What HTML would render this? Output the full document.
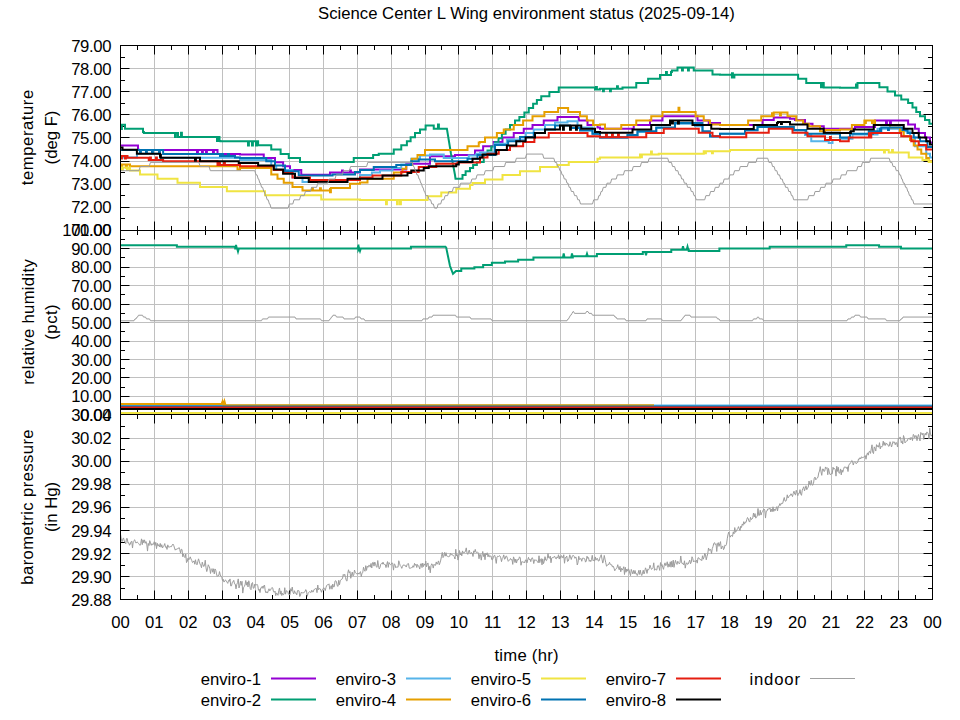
<!DOCTYPE html>
<html><head><meta charset="utf-8"><style>
html,body{margin:0;padding:0;background:#fff;width:960px;height:720px;overflow:hidden}
svg{display:block}
text{font-family:"Liberation Sans", sans-serif;font-size:16.7px;fill:#000}
</style></head><body>
<svg width="960" height="720" viewBox="0 0 960 720">
<rect width="960" height="720" fill="#fff"/>
<path d="M154.50 45.5V230.3M188.50 45.5V230.3M222.50 45.5V230.3M255.50 45.5V230.3M289.50 45.5V230.3M323.50 45.5V230.3M357.50 45.5V230.3M391.50 45.5V230.3M425.50 45.5V230.3M458.50 45.5V230.3M492.50 45.5V230.3M526.50 45.5V230.3M560.50 45.5V230.3M594.50 45.5V230.3M628.50 45.5V230.3M661.50 45.5V230.3M695.50 45.5V230.3M729.50 45.5V230.3M763.50 45.5V230.3M797.50 45.5V230.3M831.50 45.5V230.3M864.50 45.5V230.3M898.50 45.5V230.3M120.5 68.50H932.5M120.5 91.50H932.5M120.5 114.50H932.5M120.5 137.50H932.5M120.5 161.50H932.5M120.5 184.50H932.5M120.5 207.50H932.5M154.50 230.3V414.9M188.50 230.3V414.9M222.50 230.3V414.9M255.50 230.3V414.9M289.50 230.3V414.9M323.50 230.3V414.9M357.50 230.3V414.9M391.50 230.3V414.9M425.50 230.3V414.9M458.50 230.3V414.9M492.50 230.3V414.9M526.50 230.3V414.9M560.50 230.3V414.9M594.50 230.3V414.9M628.50 230.3V414.9M661.50 230.3V414.9M695.50 230.3V414.9M729.50 230.3V414.9M763.50 230.3V414.9M797.50 230.3V414.9M831.50 230.3V414.9M864.50 230.3V414.9M898.50 230.3V414.9M120.5 248.50H932.5M120.5 267.50H932.5M120.5 285.50H932.5M120.5 304.50H932.5M120.5 322.50H932.5M120.5 341.50H932.5M120.5 359.50H932.5M120.5 377.50H932.5M120.5 396.50H932.5M154.50 414.9V599.9M188.50 414.9V599.9M222.50 414.9V599.9M255.50 414.9V599.9M289.50 414.9V599.9M323.50 414.9V599.9M357.50 414.9V599.9M391.50 414.9V599.9M425.50 414.9V599.9M458.50 414.9V599.9M492.50 414.9V599.9M526.50 414.9V599.9M560.50 414.9V599.9M594.50 414.9V599.9M628.50 414.9V599.9M661.50 414.9V599.9M695.50 414.9V599.9M729.50 414.9V599.9M763.50 414.9V599.9M797.50 414.9V599.9M831.50 414.9V599.9M864.50 414.9V599.9M898.50 414.9V599.9M120.5 438.50H932.5M120.5 461.50H932.5M120.5 484.50H932.5M120.5 507.50H932.5M120.5 530.50H932.5M120.5 553.50H932.5M120.5 576.50H932.5" stroke="#c0c0c0" stroke-width="1" fill="none"/>
<path d="M137.50 45.5v4.5M137.50 230.5v-4.5M154.50 45.5v9M154.50 230.5v-9M171.50 45.5v4.5M171.50 230.5v-4.5M188.50 45.5v9M188.50 230.5v-9M205.50 45.5v4.5M205.50 230.5v-4.5M222.50 45.5v9M222.50 230.5v-9M238.50 45.5v4.5M238.50 230.5v-4.5M255.50 45.5v9M255.50 230.5v-9M272.50 45.5v4.5M272.50 230.5v-4.5M289.50 45.5v9M289.50 230.5v-9M306.50 45.5v4.5M306.50 230.5v-4.5M323.50 45.5v9M323.50 230.5v-9M340.50 45.5v4.5M340.50 230.5v-4.5M357.50 45.5v9M357.50 230.5v-9M374.50 45.5v4.5M374.50 230.5v-4.5M391.50 45.5v9M391.50 230.5v-9M408.50 45.5v4.5M408.50 230.5v-4.5M425.50 45.5v9M425.50 230.5v-9M441.50 45.5v4.5M441.50 230.5v-4.5M458.50 45.5v9M458.50 230.5v-9M475.50 45.5v4.5M475.50 230.5v-4.5M492.50 45.5v9M492.50 230.5v-9M509.50 45.5v4.5M509.50 230.5v-4.5M526.50 45.5v9M526.50 230.5v-9M543.50 45.5v4.5M543.50 230.5v-4.5M560.50 45.5v9M560.50 230.5v-9M577.50 45.5v4.5M577.50 230.5v-4.5M594.50 45.5v9M594.50 230.5v-9M611.50 45.5v4.5M611.50 230.5v-4.5M628.50 45.5v9M628.50 230.5v-9M644.50 45.5v4.5M644.50 230.5v-4.5M661.50 45.5v9M661.50 230.5v-9M678.50 45.5v4.5M678.50 230.5v-4.5M695.50 45.5v9M695.50 230.5v-9M712.50 45.5v4.5M712.50 230.5v-4.5M729.50 45.5v9M729.50 230.5v-9M746.50 45.5v4.5M746.50 230.5v-4.5M763.50 45.5v9M763.50 230.5v-9M780.50 45.5v4.5M780.50 230.5v-4.5M797.50 45.5v9M797.50 230.5v-9M814.50 45.5v4.5M814.50 230.5v-4.5M831.50 45.5v9M831.50 230.5v-9M847.50 45.5v4.5M847.50 230.5v-4.5M864.50 45.5v9M864.50 230.5v-9M881.50 45.5v4.5M881.50 230.5v-4.5M898.50 45.5v9M898.50 230.5v-9M915.50 45.5v4.5M915.50 230.5v-4.5M120.5 57.50h4.5M932.5 57.50h-4.5M120.5 68.50h9M932.5 68.50h-9M120.5 80.50h4.5M932.5 80.50h-4.5M120.5 91.50h9M932.5 91.50h-9M120.5 103.50h4.5M932.5 103.50h-4.5M120.5 114.50h9M932.5 114.50h-9M120.5 126.50h4.5M932.5 126.50h-4.5M120.5 137.50h9M932.5 137.50h-9M120.5 149.50h4.5M932.5 149.50h-4.5M120.5 161.50h9M932.5 161.50h-9M120.5 172.50h4.5M932.5 172.50h-4.5M120.5 184.50h9M932.5 184.50h-9M120.5 195.50h4.5M932.5 195.50h-4.5M120.5 207.50h9M932.5 207.50h-9M120.5 218.50h4.5M932.5 218.50h-4.5M137.50 230.5v4.5M137.50 414.5v-4.5M154.50 230.5v9M154.50 414.5v-9M171.50 230.5v4.5M171.50 414.5v-4.5M188.50 230.5v9M188.50 414.5v-9M205.50 230.5v4.5M205.50 414.5v-4.5M222.50 230.5v9M222.50 414.5v-9M238.50 230.5v4.5M238.50 414.5v-4.5M255.50 230.5v9M255.50 414.5v-9M272.50 230.5v4.5M272.50 414.5v-4.5M289.50 230.5v9M289.50 414.5v-9M306.50 230.5v4.5M306.50 414.5v-4.5M323.50 230.5v9M323.50 414.5v-9M340.50 230.5v4.5M340.50 414.5v-4.5M357.50 230.5v9M357.50 414.5v-9M374.50 230.5v4.5M374.50 414.5v-4.5M391.50 230.5v9M391.50 414.5v-9M408.50 230.5v4.5M408.50 414.5v-4.5M425.50 230.5v9M425.50 414.5v-9M441.50 230.5v4.5M441.50 414.5v-4.5M458.50 230.5v9M458.50 414.5v-9M475.50 230.5v4.5M475.50 414.5v-4.5M492.50 230.5v9M492.50 414.5v-9M509.50 230.5v4.5M509.50 414.5v-4.5M526.50 230.5v9M526.50 414.5v-9M543.50 230.5v4.5M543.50 414.5v-4.5M560.50 230.5v9M560.50 414.5v-9M577.50 230.5v4.5M577.50 414.5v-4.5M594.50 230.5v9M594.50 414.5v-9M611.50 230.5v4.5M611.50 414.5v-4.5M628.50 230.5v9M628.50 414.5v-9M644.50 230.5v4.5M644.50 414.5v-4.5M661.50 230.5v9M661.50 414.5v-9M678.50 230.5v4.5M678.50 414.5v-4.5M695.50 230.5v9M695.50 414.5v-9M712.50 230.5v4.5M712.50 414.5v-4.5M729.50 230.5v9M729.50 414.5v-9M746.50 230.5v4.5M746.50 414.5v-4.5M763.50 230.5v9M763.50 414.5v-9M780.50 230.5v4.5M780.50 414.5v-4.5M797.50 230.5v9M797.50 414.5v-9M814.50 230.5v4.5M814.50 414.5v-4.5M831.50 230.5v9M831.50 414.5v-9M847.50 230.5v4.5M847.50 414.5v-4.5M864.50 230.5v9M864.50 414.5v-9M881.50 230.5v4.5M881.50 414.5v-4.5M898.50 230.5v9M898.50 414.5v-9M915.50 230.5v4.5M915.50 414.5v-4.5M120.5 239.50h4.5M932.5 239.50h-4.5M120.5 248.50h9M932.5 248.50h-9M120.5 257.50h4.5M932.5 257.50h-4.5M120.5 267.50h9M932.5 267.50h-9M120.5 276.50h4.5M932.5 276.50h-4.5M120.5 285.50h9M932.5 285.50h-9M120.5 294.50h4.5M932.5 294.50h-4.5M120.5 304.50h9M932.5 304.50h-9M120.5 313.50h4.5M932.5 313.50h-4.5M120.5 322.50h9M932.5 322.50h-9M120.5 331.50h4.5M932.5 331.50h-4.5M120.5 341.50h9M932.5 341.50h-9M120.5 350.50h4.5M932.5 350.50h-4.5M120.5 359.50h9M932.5 359.50h-9M120.5 368.50h4.5M932.5 368.50h-4.5M120.5 377.50h9M932.5 377.50h-9M120.5 387.50h4.5M932.5 387.50h-4.5M120.5 396.50h9M932.5 396.50h-9M120.5 405.50h4.5M932.5 405.50h-4.5M137.50 414.5v4.5M137.50 599.5v-4.5M154.50 414.5v9M154.50 599.5v-9M171.50 414.5v4.5M171.50 599.5v-4.5M188.50 414.5v9M188.50 599.5v-9M205.50 414.5v4.5M205.50 599.5v-4.5M222.50 414.5v9M222.50 599.5v-9M238.50 414.5v4.5M238.50 599.5v-4.5M255.50 414.5v9M255.50 599.5v-9M272.50 414.5v4.5M272.50 599.5v-4.5M289.50 414.5v9M289.50 599.5v-9M306.50 414.5v4.5M306.50 599.5v-4.5M323.50 414.5v9M323.50 599.5v-9M340.50 414.5v4.5M340.50 599.5v-4.5M357.50 414.5v9M357.50 599.5v-9M374.50 414.5v4.5M374.50 599.5v-4.5M391.50 414.5v9M391.50 599.5v-9M408.50 414.5v4.5M408.50 599.5v-4.5M425.50 414.5v9M425.50 599.5v-9M441.50 414.5v4.5M441.50 599.5v-4.5M458.50 414.5v9M458.50 599.5v-9M475.50 414.5v4.5M475.50 599.5v-4.5M492.50 414.5v9M492.50 599.5v-9M509.50 414.5v4.5M509.50 599.5v-4.5M526.50 414.5v9M526.50 599.5v-9M543.50 414.5v4.5M543.50 599.5v-4.5M560.50 414.5v9M560.50 599.5v-9M577.50 414.5v4.5M577.50 599.5v-4.5M594.50 414.5v9M594.50 599.5v-9M611.50 414.5v4.5M611.50 599.5v-4.5M628.50 414.5v9M628.50 599.5v-9M644.50 414.5v4.5M644.50 599.5v-4.5M661.50 414.5v9M661.50 599.5v-9M678.50 414.5v4.5M678.50 599.5v-4.5M695.50 414.5v9M695.50 599.5v-9M712.50 414.5v4.5M712.50 599.5v-4.5M729.50 414.5v9M729.50 599.5v-9M746.50 414.5v4.5M746.50 599.5v-4.5M763.50 414.5v9M763.50 599.5v-9M780.50 414.5v4.5M780.50 599.5v-4.5M797.50 414.5v9M797.50 599.5v-9M814.50 414.5v4.5M814.50 599.5v-4.5M831.50 414.5v9M831.50 599.5v-9M847.50 414.5v4.5M847.50 599.5v-4.5M864.50 414.5v9M864.50 599.5v-9M881.50 414.5v4.5M881.50 599.5v-4.5M898.50 414.5v9M898.50 599.5v-9M915.50 414.5v4.5M915.50 599.5v-4.5M120.5 426.50h4.5M932.5 426.50h-4.5M120.5 438.50h9M932.5 438.50h-9M120.5 449.50h4.5M932.5 449.50h-4.5M120.5 461.50h9M932.5 461.50h-9M120.5 472.50h4.5M932.5 472.50h-4.5M120.5 484.50h9M932.5 484.50h-9M120.5 495.50h4.5M932.5 495.50h-4.5M120.5 507.50h9M932.5 507.50h-9M120.5 518.50h4.5M932.5 518.50h-4.5M120.5 530.50h9M932.5 530.50h-9M120.5 542.50h4.5M932.5 542.50h-4.5M120.5 553.50h9M932.5 553.50h-9M120.5 565.50h4.5M932.5 565.50h-4.5M120.5 576.50h9M932.5 576.50h-9M120.5 588.50h4.5M932.5 588.50h-4.5" stroke="#000" stroke-width="1" fill="none"/>
<path d="M120.5 145.62H138.00V149.76H138.90V150.00H197.00V153.73H197.90V150.00H202.00V153.73H202.90V150.00H206.00V153.73H206.90V150.00H213.00V153.73H213.90V150.00H217.50V154.00H240.00V154.38H263.75V158.12H275.00V162.25H283.12V166.25H290.00V170.00H301.25V174.75H330.00V172.50H342.00V170.43H342.90V172.50H350.00V170.43H350.90V172.50H360.00V169.38H406.25V163.75H430.00V156.25H455.00V155.00H475.00V150.62H480.00V150.62H483.12V146.25H493.75V141.88H502.50V137.50H513.75V133.12H523.75V128.75H532.50V125.00H543.75V120.62H557.50V116.88H578.75V120.62H587.50V125.00H597.50V127.50H600.00V128.75H633.75V125.00H650.00V120.62H662.50V116.25H697.50V120.62H708.75V123.12H720.00V125.00H762.50V120.00H773.75V117.50H790.00V118.75H795.00V120.00H805.00V123.75H812.50V126.25H823.75V128.75H840.00V128.75H855.00V126.88H875.00V120.62H886.00V124.77H886.90V120.62H890.00V124.77H890.90V120.62H908.12V124.38H915.00V128.75H918.75V133.12H925.00V137.50H930.00V142.50H932.5" stroke="#9400d3" stroke-width="2" fill="none"/>
<path d="M120.5 124.75H121.00V128.89H121.90V124.75H125.00V128.75H143.00V132.06H143.90V132.88H175.00V137.01H175.90V132.88H178.00V137.01H178.90V136.88H181.00V132.74H181.90V136.88H217.00V141.01H217.90V136.88H219.50V141.01H220.40V141.25H240.00V141.25H248.00V145.39H248.90V141.25H252.00V145.39H252.90V141.25H256.00V145.39H256.90V141.25H258.12V145.25H271.25V149.38H280.62V154.00H288.75V158.12H300.00V161.88H353.75V158.12H373.12V155.00H378.75V153.75H393.75V149.38H401.25V145.25H406.88V141.25H410.62V137.25H415.00V133.12H420.00V129.38H425.62V125.62H433.75V128.75H438.00V124.61H438.90V128.75H446.90V128.75L451.00 153.75L455.00 175.00L455.50 178.75H458.75V178.75H462.50V175.00H465.62V171.25H470.00V168.12H473.12V165.00H476.88V161.88H483.75V154.60H487.50V150.50H491.25V146.40H495.00V142.30H498.50V138.20H501.88V133.75H505.62V129.38H510.00V125.00H515.00V120.62H519.38V116.88H524.38V112.50H528.75V108.12H533.12V103.75H536.88V100.00H541.25V96.25H549.38V91.88H558.75V87.50H595.00V89.38H596.00V86.89H596.90V89.38H600.00V88.75H603.00V91.23H603.90V88.75H610.00V91.23H610.90V88.75H617.00V86.27H617.90V88.75H622.50V87.50H636.25V83.12H648.12V78.75H660.00V75.00H666.00V71.89H666.90V75.00H671.00V71.89H671.90V70.62H677.50V67.50H682.00V70.61H682.90V67.50H688.00V70.61H688.90V67.50H693.75V70.62H712.50V74.38H720.00V74.75H731.88V77.50H732.00V73.36H732.90V77.50H734.38V74.75H798.12V78.75H806.25V83.12H821.00V87.27H821.90V83.12H823.75V87.50H840.00V87.75H856.00V84.44H856.90V87.75H857.50V83.12H879.38V87.25H887.50V91.50H895.00V95.62H901.25V99.38H908.12V103.12H912.50V107.50H916.25V111.88H920.00V116.25H925.00V120.00H929.38V123.75H932.5" stroke="#009e73" stroke-width="2" fill="none"/>
<path d="M120.5 157.50H137.00V153.75H160.00V157.75H200.00V157.75H240.00V160.00H271.25V166.25H276.25V170.00H292.50V177.50H302.50V181.88H332.50V180.00H360.00V175.00H371.88V172.50H380.00V170.62H392.50V168.12H401.25V164.38H411.25V158.75H420.00V155.62H430.00V154.38H443.75V158.12H468.75V155.62H476.25V153.75H480.00V152.50H494.38V143.75H506.88V139.38H525.62V133.12H533.75V129.38H545.00V125.00H555.00V122.50H567.50V121.25H577.50V127.50H592.50V133.75H600.00V138.12H627.50V135.62H637.50V131.88H656.25V128.12H675.00V123.75H695.00V126.25H702.50V131.88H710.00V136.88H720.00V133.75H745.00V130.62H757.50V126.88H793.75V130.62H805.00V135.00H811.25V141.25H828.75V143.12H832.50V140.00H840.00V138.75H852.50V134.38H877.50V128.75H905.00V131.25H910.00V137.50H915.00V146.25H926.25V153.75H930.00V157.50H932.5" stroke="#56b4e9" stroke-width="2" fill="none"/>
<path d="M120.5 164.50H121.00V167.40H121.90V164.50H126.00V167.40H126.90V164.50H130.00V166.25H237.50V169.38H240.00V168.12H271.25V174.38H277.50V178.75H283.75V182.75H292.50V186.88H302.50V190.62H312.00V188.14H312.90V190.62H320.00V188.14H320.90V190.62H330.00V188.12H330.00V192.26H330.90V188.12H350.00V183.75H360.00V182.50H367.50V178.75H393.75V172.50H402.50V168.75H406.25V165.00H411.88V158.75H417.50V155.00H425.00V150.00H467.50V146.25H478.75V142.50H480.00V141.88H485.00V137.50H496.88V133.12H503.75V129.38H513.75V125.00H523.12V120.62H532.50V116.25H544.38V111.88H558.12V108.12H568.12V111.88H580.00V116.25H586.88V120.62H593.12V125.00H600.00V124.38H605.00V128.75H621.25V125.00H636.25V120.62H651.25V116.25H662.50V111.88H678.50V107.73H679.40V111.88H695.62V116.25H703.75V120.62H710.00V124.38H720.00V125.00H748.12V120.62H761.25V116.25H772.00V113.35H772.90V116.25H773.75V112.50H780.00V115.40H780.90V112.50H787.50V116.25H796.25V120.62H803.12V123.75H808.75V126.25H820.00V131.25H825.00V130.00H840.00V129.38H851.88V125.00H864.38V120.62H865.00V123.11H865.90V120.62H872.00V123.11H872.90V120.62H875.00V125.00H890.00V127.50H900.00V131.25H903.75V136.25H910.00V140.00H913.75V145.62H917.50V149.38H921.25V153.75H926.25V158.12H928.75V161.25H932.5" stroke="#e69f00" stroke-width="2" fill="none"/>
<path d="M120.5 167.50H122.00V169.98H122.90V167.50H127.00V169.98H127.90V167.50H130.00V170.62H140.00V174.38H157.50V178.75H177.50V182.75H200.00V186.88H226.88V191.25H240.00V191.25H265.00V195.25H321.25V199.38H360.00V200.00H386.00V204.14H386.90V200.00H397.00V204.14H397.80V200.00H400.00V204.14H400.90V200.00H427.50V196.25H441.25V192.50H456.25V188.75H470.00V185.00H472.50V183.12H480.00V183.12H485.00V179.38H502.50V175.00H520.00V171.25H540.00V166.88H557.50V165.00H568.75V161.88H597.50V158.75H600.00V157.50H640.00V154.38H641.00V157.27H641.90V154.38H651.00V151.48H651.90V154.38H658.75V153.75H703.75V151.25H705.00V153.32H705.90V151.25H712.00V153.32H712.90V151.25H720.00V151.25H730.00V150.00H840.00V150.00H884.00V152.48H884.90V150.00H888.75V152.50H892.00V150.02H892.90V152.50H908.75V157.50H922.50V160.00H928.75V161.88H932.5" stroke="#f0e442" stroke-width="2" fill="none"/>
<path d="M120.5 150.00H140.00V152.07H140.90V150.00H146.00V152.07H146.90V150.00H152.00V152.07H152.90V150.00H159.00V152.07H159.90V150.00H163.12V154.00H220.00V156.00H222.00V153.93H222.90V156.00H228.00V153.93H228.90V156.00H235.00V157.50H240.00V158.12H266.25V161.25H275.00V165.62H285.00V171.25H298.75V175.62H332.50V174.38H355.00V171.88H360.00V170.00H373.75V166.88H396.25V165.00H411.25V161.25H418.75V159.38H435.00V161.25H467.50V158.75H477.50V155.00H480.00V155.00H495.00V145.00H508.12V141.25H520.00V136.88H533.75V133.12H545.00V129.38H555.00V125.62H570.00V128.12H580.00V130.62H592.50V133.75H600.00V137.25H627.50V135.00H637.50V131.25H656.25V127.50H675.00V123.12H702.50V131.25H710.00V136.25H720.00V133.75H745.00V130.00H757.50V126.88H793.75V130.00H806.25V133.75H840.00V137.50H850.00V133.75H868.75V131.25H872.00V133.73H872.90V131.25H880.00V128.77H880.90V131.25H881.25V127.50H888.00V129.98H888.90V127.50H902.50V130.00H907.50V133.12H913.75V137.50H920.00V141.25H927.50V146.88H932.5" stroke="#0072b2" stroke-width="2" fill="none"/>
<path d="M120.5 156.00H121.00V158.48H121.90V156.00H125.00V158.48H125.90V156.00H127.50V157.75H148.75V160.00H150.00V157.52H150.90V160.00H156.00V157.52H156.90V160.00H163.12V161.25H217.50V165.00H219.00V162.10H219.90V165.00H224.00V162.10H224.90V165.00H240.00V166.25H273.75V170.00H283.12V173.12H292.50V177.50H310.00V180.00H360.00V177.50H372.50V175.62H401.25V171.88H418.75V166.88H436.25V163.75H457.50V162.50H480.00V157.50H487.50V153.75H498.75V150.00H510.00V146.25H523.12V141.88H534.38V137.50H548.75V133.12H587.50V136.25H600.00V137.25H606.00V134.35H606.90V137.25H612.00V134.35H612.90V137.25H618.00V134.35H618.90V137.25H646.25V133.12H663.75V128.75H698.75V132.75H712.50V136.25H720.00V137.25H746.25V132.75H768.75V128.75H792.50V132.75H807.50V136.25H825.00V140.00H830.00V137.10H830.90V140.00H840.00V141.25H848.75V137.50H869.00V133.36H869.90V137.50H871.25V133.12H901.25V136.25H911.25V141.25H918.75V145.00H926.25V149.38H932.5" stroke="#e51e10" stroke-width="2" fill="none"/>
<path d="M120.5 147.50H122.50V149.75H136.88V153.75H160.00V157.75H160.00V154.85H160.90V157.75H195.00V160.65H195.90V157.75H200.00V161.25H238.75V163.12H240.00V163.12H258.12V165.62H273.75V169.38H283.12V173.75H295.00V178.12H308.75V181.88H347.50V178.75H360.00V178.75H382.50V175.62H407.50V173.12H411.25V170.62H423.75V168.12H428.75V166.25H456.25V164.38H458.75V161.88H472.50V158.75H480.00V157.50H482.50V154.38H496.25V150.00H506.88V145.62H516.25V141.25H525.62V137.50H535.00V133.12H545.00V129.38H560.00V125.62H563.00V129.76H563.90V125.62H570.00V129.76H570.90V125.62H576.00V129.76H576.90V125.62H581.25V128.75H595.00V131.88H600.00V132.75H632.50V129.38H651.25V125.00H670.00V120.62H672.00V123.52H672.90V120.62H678.00V123.52H678.90V120.62H692.50V125.00H711.25V128.75H720.00V129.00H753.75V125.00H777.00V122.93H777.90V121.88H781.00V123.94H781.90V121.88H790.00V124.38H807.50V128.75H823.75V132.75H840.00V133.12H850.00V131.25H850.00V132.91H850.90V131.25H853.75V129.38H873.75V125.00H903.75V128.75H912.50V133.12H918.75V137.50H926.25V141.25H930.00V144.38H932.5" stroke="#000000" stroke-width="2" fill="none"/>
<path d="M120.5 170.70H139.00L140.20 166.54H149.20L150.40 162.39H198.90L200.10 166.54H209.10L210.30 170.70H254.80L256.00 174.86H257.00L258.20 179.02H258.70L259.90 183.18H260.40L261.60 187.33H262.60L263.80 191.49H264.30L265.50 195.65H266.00L267.20 199.81H268.20L269.40 203.97H269.90L271.10 208.12H288.10L289.30 203.97H292.80L294.00 199.81H299.50L300.70 195.65H304.20L305.40 191.49H310.40L311.60 187.33H316.60L317.80 183.18H327.80L329.00 179.02H335.00L336.20 174.86H342.20L343.40 170.70H349.40L350.60 166.54H366.60L367.80 162.39H412.30L413.50 166.54H414.00L415.20 170.70H415.70L416.90 174.86H417.90L419.10 179.02H419.60L420.80 183.18H421.30L422.50 187.33H423.00L424.20 191.49H424.70L425.90 195.65H427.90L429.10 199.81H430.60L431.80 203.97H433.30L434.50 208.12H437.00L438.20 203.97H440.70L441.90 199.81H443.90L445.10 195.65H447.60L448.80 191.49H452.30L453.50 187.33H459.50L460.70 183.18H470.70L471.90 179.02H475.90L477.10 174.86H484.10L485.30 170.70H492.80L494.00 166.54H504.50L505.70 162.39H515.20L516.40 158.23H525.40L526.60 154.07H542.60L543.80 158.23H553.80L555.00 162.39H556.50L557.70 166.54H558.70L559.90 170.70H560.90L562.10 174.86H563.10L564.30 179.02H565.80L567.00 183.18H568.00L569.20 187.33H570.20L571.40 191.49H573.40L574.60 195.65H576.60L577.80 199.81H579.30L580.50 203.97H592.50L593.70 199.81H597.70L598.90 195.65H599.90L601.10 191.49H602.10L603.30 187.33H605.80L607.00 183.18H610.50L611.70 179.02H616.20L617.40 174.86H623.40L624.60 170.70H632.10L633.30 166.54H640.30L641.50 162.39H648.00L649.20 158.23H667.70L668.90 162.39H671.40L672.60 166.54H674.60L675.80 170.70H677.80L679.00 174.86H680.50L681.70 179.02H683.20L684.40 183.18H686.40L687.60 187.33H690.10L691.30 191.49H692.80L694.00 195.65H695.00L696.20 199.81H704.70L705.90 195.65H709.40L710.60 191.49H714.10L715.30 187.33H718.80L720.00 183.18H723.00L724.20 179.02H728.70L729.90 174.86H733.40L734.60 170.70H739.10L740.30 166.54H747.30L748.50 162.39H756.00L757.20 158.23H767.70L768.90 162.39H771.40L772.60 166.54H774.10L775.30 170.70H776.80L778.00 174.86H779.50L780.70 179.02H782.20L783.40 183.18H784.40L785.60 187.33H787.60L788.80 191.49H790.30L791.50 195.65H792.50L793.70 199.81H807.70L808.90 195.65H813.90L815.10 191.49H819.60L820.80 187.33H824.80L826.00 183.18H832.00L833.20 179.02H840.20L841.40 174.86H845.90L847.10 170.70H856.60L857.80 166.54H861.30L862.50 162.39H869.50L870.70 158.23H889.20L890.40 162.39H891.90L893.10 166.54H895.10L896.30 170.70H898.30L899.50 174.86H900.50L901.70 179.02H902.20L903.40 183.18H904.40L905.60 187.33H906.60L907.80 191.49H908.30L909.50 195.65H910.50L911.70 199.81H912.70L913.90 203.97H932.5" stroke="#9c9c9c" stroke-width="1" fill="none"/>
<path d="M120.5 406.2H932.5" stroke="#9400d3" stroke-width="2" fill="none"/>
<path d="M120.5 245.31H176.88V246.63H235.20V248.38H235.94V248.38L236.00 244.88L236.80 248.38H237.20V248.38L238.00 251.38L238.80 248.38H357.60V248.38L358.40 245.38H358.44V249.69L359.20 248.38H359.20V248.38L360.00 250.88L360.80 248.38H395.63V248.38H410.94V246.63H446.00V246.60L450.00 266.00L453.00 273.75L456.00 271.00H461.25V268.50H474.38V267.19H483.13V265.00H491.88V262.81H505.00V261.50H518.13V259.75H533.44V257.56H562.90V257.56L563.70 253.56L564.50 257.56H571.20V257.56L572.00 253.56L572.80 257.56H572.81V256.25H586.20V256.25L587.00 253.75L587.80 256.25H596.88V254.06H642.81V251.88H645.20V251.88L646.00 255.38L646.80 251.88H671.25V249.69H682.20V249.69L683.00 246.19L683.80 249.69H686.70V249.69L687.50 246.69L688.30 249.69H688.75V251.00H719.38V248.38H769.69V246.63H846.25V245.31H879.06V246.63H900.94V248.38H932.5" stroke="#009e73" stroke-width="2" fill="none"/>
<path d="M120.5 405.6H932.5" stroke="#56b4e9" stroke-width="2" fill="none"/>
<path d="M120.5 404H221.5L222.5 401.5L223.5 405.3L224.5 401.5L225.5 405.3H654" stroke="#e69f00" stroke-width="2" fill="none"/>
<path d="M120.5 413.0H932.5" stroke="#f0e442" stroke-width="2" fill="none"/>
<path d="M120.5 406.6H932.5" stroke="#0072b2" stroke-width="2" fill="none"/>
<path d="M120.5 407.4H932.5" stroke="#e51e10" stroke-width="2" fill="none"/>
<path d="M120.5 409.0H932.5" stroke="#000000" stroke-width="2" fill="none"/>
<path d="M120.5 320.75H134.00L135.00 318.91H136.00L137.00 317.06H137.50L138.50 315.22H142.50L143.50 317.06H145.50L146.50 318.91H149.50L150.50 320.75H261.50L262.50 318.91H267.50L268.50 317.06H295.00L296.00 318.91H320.50L321.50 320.75H329.00L330.00 318.91H330.50L331.50 317.06H332.00L333.00 315.22H335.50L336.50 317.06H343.00L344.00 318.91H354.50L355.50 317.06H360.00L361.00 318.91H364.00L365.00 320.75H422.00L423.00 318.91H428.00L429.00 317.06H432.00L433.00 315.22H455.50L456.50 317.06H470.00L471.00 318.91H491.00L492.00 320.75H567.00L568.00 318.91H568.50L569.50 317.06H569.50L570.50 315.22H571.00L572.00 313.37H572.00L573.00 311.52H573.50L574.50 313.37H585.50L586.50 311.52H588.00L589.00 313.37H591.50L592.50 315.22H614.00L615.00 317.06H616.00L617.00 318.91H625.00L626.00 320.75H646.00L647.00 318.91H661.50L662.50 320.75H681.00L682.00 318.91H682.50L683.50 317.06H684.00L685.00 315.22H690.00L691.00 317.06H716.50L717.50 318.91H719.00L720.00 320.75H752.50L753.50 318.91H756.50L757.50 317.06H758.50L759.50 318.91H762.50L763.50 320.75H847.00L848.00 318.91H850.50L851.50 317.06H854.00L855.00 315.22H859.50L860.50 317.06H867.00L868.00 318.91H885.50L886.50 320.75H900.00L901.00 318.91H902.00L903.00 317.06H932.5" stroke="#9c9c9c" stroke-width="1" fill="none"/>
<path d="M120.50 534.18L121.25 538.99L122.00 541.54L122.75 539.19L123.50 537.93L124.25 540.93L125.00 542.27L125.75 543.79L126.50 538.56L127.25 538.48L128.00 543.17L128.75 542.73L129.50 545.26L130.25 544.09L131.00 541.69L131.75 541.38L132.50 548.02L133.25 541.54L134.00 540.49L134.75 539.77L135.50 542.70L136.25 542.89L137.00 541.82L137.75 542.53L138.50 543.37L139.25 544.39L140.00 545.39L140.75 543.41L141.50 538.87L142.25 544.67L143.00 539.85L143.75 542.78L144.50 539.85L145.25 543.31L146.00 541.57L146.75 543.92L147.50 551.08L148.25 543.44L149.00 545.55L149.75 540.63L150.50 543.08L151.25 545.33L152.00 543.65L152.75 544.78L153.50 544.23L154.25 541.74L155.00 545.44L155.75 542.37L156.50 548.63L157.25 543.26L158.00 546.09L158.75 544.61L159.50 546.89L160.25 543.41L161.00 547.19L161.75 544.70L162.50 547.98L163.25 546.61L164.00 545.59L164.75 543.56L165.50 547.22L166.25 546.62L167.00 549.42L167.75 544.87L168.50 547.10L169.25 547.09L170.00 546.67L170.75 546.59L171.50 546.62L172.25 544.92L173.00 544.06L173.75 545.57L174.50 547.94L175.25 550.15L176.00 549.01L176.75 549.28L177.50 548.74L178.25 548.65L179.00 547.56L179.75 549.52L180.50 552.95L181.25 549.25L182.00 549.53L182.75 556.76L183.50 553.94L184.25 556.73L185.00 557.63L185.75 554.01L186.50 562.60L187.25 561.46L188.00 558.16L188.75 559.86L189.50 558.79L190.25 556.84L191.00 558.99L191.75 560.49L192.50 562.57L193.25 562.01L194.00 560.89L194.75 564.24L195.50 559.75L196.25 563.70L197.00 564.81L197.75 561.95L198.50 558.84L199.25 561.18L200.00 564.11L200.75 565.08L201.50 567.72L202.25 562.15L203.00 564.77L203.75 566.55L204.50 565.00L205.25 560.21L206.00 567.82L206.75 571.58L207.50 568.87L208.25 564.75L209.00 566.21L209.75 567.97L210.50 573.49L211.25 569.48L212.00 568.62L212.75 572.24L213.50 568.77L214.25 573.93L215.00 568.95L215.75 570.30L216.50 573.93L217.25 576.42L218.00 575.52L218.75 575.59L219.50 571.58L220.25 575.01L221.00 576.12L221.75 577.17L222.50 580.62L223.25 579.27L224.00 582.07L224.75 580.68L225.50 579.95L226.25 581.21L227.00 582.15L227.75 583.36L228.50 580.51L229.25 581.30L230.00 578.93L230.75 585.98L231.50 585.85L232.25 582.33L233.00 581.86L233.75 580.34L234.50 583.80L235.25 584.11L236.00 588.88L236.75 584.65L237.50 582.52L238.25 578.91L239.00 587.95L239.75 585.22L240.50 581.16L241.25 585.35L242.00 581.31L242.75 593.09L243.50 587.74L244.25 586.55L245.00 584.91L245.75 580.47L246.50 585.17L247.25 581.96L248.00 586.98L248.75 580.77L249.50 583.67L250.25 588.64L251.00 589.69L251.75 583.27L252.50 582.53L253.25 588.16L254.00 588.17L254.75 584.09L255.50 584.97L256.25 585.19L257.00 584.26L257.75 585.65L258.50 590.31L259.25 589.23L260.00 592.59L260.75 587.87L261.50 587.97L262.25 586.24L263.00 588.43L263.75 585.91L264.50 585.05L265.25 590.96L266.00 592.88L266.75 591.71L267.50 593.06L268.25 590.79L269.00 588.78L269.75 590.84L270.50 590.00L271.25 588.51L272.00 587.39L272.75 588.09L273.50 591.70L274.25 592.28L275.00 591.05L275.75 595.64L276.50 592.91L277.25 593.84L278.00 595.30L278.75 590.61L279.50 587.97L280.25 594.23L281.00 590.92L281.75 595.52L282.50 593.28L283.25 594.82L284.00 594.26L284.75 587.71L285.50 594.15L286.25 590.95L287.00 590.76L287.75 591.50L288.50 594.27L289.25 594.53L290.00 594.83L290.75 588.68L291.50 591.14L292.25 587.04L293.00 592.27L293.75 593.88L294.50 590.74L295.25 593.06L296.00 593.03L296.75 594.82L297.50 590.61L298.25 590.59L299.00 590.74L299.75 596.53L300.50 595.01L301.25 592.22L302.00 593.02L302.75 592.76L303.50 592.97L304.25 592.02L305.00 591.73L305.75 589.61L306.50 591.02L307.25 596.30L308.00 593.63L308.75 592.40L309.50 591.61L310.25 592.09L311.00 592.61L311.75 590.16L312.50 591.95L313.25 591.90L314.00 589.48L314.75 589.24L315.50 588.60L316.25 588.30L317.00 592.65L317.75 585.02L318.50 589.69L319.25 588.74L320.00 588.57L320.75 590.07L321.50 592.29L322.25 589.73L323.00 589.08L323.75 587.72L324.50 588.53L325.25 590.62L326.00 587.32L326.75 585.29L327.50 584.72L328.25 584.78L329.00 583.83L329.75 589.25L330.50 587.24L331.25 585.58L332.00 589.18L332.75 584.01L333.50 586.96L334.25 586.77L335.00 581.07L335.75 580.74L336.50 581.89L337.25 585.81L338.00 586.41L338.75 580.30L339.50 584.79L340.25 580.74L341.00 579.97L341.75 578.86L342.50 578.63L343.25 574.44L344.00 575.57L344.75 574.28L345.50 577.50L346.25 580.43L347.00 581.16L347.75 573.35L348.50 569.79L349.25 572.81L350.00 571.59L350.75 578.31L351.50 575.06L352.25 572.07L353.00 575.90L353.75 574.98L354.50 570.01L355.25 572.53L356.00 573.20L356.75 573.79L357.50 574.05L358.25 572.97L359.00 574.19L359.75 572.40L360.50 571.69L361.25 576.61L362.00 573.20L362.75 572.63L363.50 567.21L364.25 569.74L365.00 571.26L365.75 565.66L366.50 570.40L367.25 566.23L368.00 567.30L368.75 565.32L369.50 565.38L370.25 567.15L371.00 563.48L371.75 568.03L372.50 562.65L373.25 562.33L374.00 566.14L374.75 562.07L375.50 563.69L376.25 566.66L377.00 567.38L377.75 560.53L378.50 565.80L379.25 569.00L380.00 567.44L380.75 564.16L381.50 563.35L382.25 564.08L383.00 562.13L383.75 564.20L384.50 564.40L385.25 564.52L386.00 567.59L386.75 564.37L387.50 561.57L388.25 567.36L389.00 562.50L389.75 563.96L390.50 564.71L391.25 564.25L392.00 562.76L392.75 564.51L393.50 570.13L394.25 563.74L395.00 564.84L395.75 567.76L396.50 566.92L397.25 566.98L398.00 567.23L398.75 560.75L399.50 563.31L400.25 565.62L401.00 566.49L401.75 568.34L402.50 566.47L403.25 564.87L404.00 565.53L404.75 564.98L405.50 566.05L406.25 567.06L407.00 564.75L407.75 563.68L408.50 563.61L409.25 568.12L410.00 568.57L410.75 567.93L411.50 567.64L412.25 567.61L413.00 565.71L413.75 567.27L414.50 563.35L415.25 565.32L416.00 564.12L416.75 567.51L417.50 564.53L418.25 565.63L419.00 566.83L419.75 569.05L420.50 564.06L421.25 563.63L422.00 567.58L422.75 563.07L423.50 566.57L424.25 564.13L425.00 565.11L425.75 561.08L426.50 566.82L427.25 563.94L428.00 562.94L428.75 569.69L429.50 566.47L430.25 572.81L431.00 565.59L431.75 563.77L432.50 564.73L433.25 568.09L434.00 564.24L434.75 565.25L435.50 565.32L436.25 561.95L437.00 564.25L437.75 562.71L438.50 560.91L439.25 564.80L440.00 562.89L440.75 560.09L441.50 556.39L442.25 552.43L443.00 557.63L443.75 556.21L444.50 552.48L445.25 556.14L446.00 552.70L446.75 556.06L447.50 556.37L448.25 556.78L449.00 556.38L449.75 556.20L450.50 553.11L451.25 554.77L452.00 554.40L452.75 554.95L453.50 556.04L454.25 556.76L455.00 559.02L455.75 549.27L456.50 556.03L457.25 554.57L458.00 560.07L458.75 556.73L459.50 550.53L460.25 555.01L461.00 552.64L461.75 555.87L462.50 550.91L463.25 552.85L464.00 552.53L464.75 552.36L465.50 550.99L466.25 547.86L467.00 552.96L467.75 554.37L468.50 552.08L469.25 550.07L470.00 553.05L470.75 554.05L471.50 552.51L472.25 553.05L473.00 556.49L473.75 550.85L474.50 552.31L475.25 549.38L476.00 552.32L476.75 552.40L477.50 552.06L478.25 552.84L479.00 558.74L479.75 554.32L480.50 554.68L481.25 560.17L482.00 555.14L482.75 551.46L483.50 556.54L484.25 553.63L485.00 559.72L485.75 553.26L486.50 554.96L487.25 552.77L488.00 556.85L488.75 554.46L489.50 556.82L490.25 556.27L491.00 555.89L491.75 559.64L492.50 559.71L493.25 557.77L494.00 555.62L494.75 555.30L495.50 558.45L496.25 563.40L497.00 556.92L497.75 556.23L498.50 556.50L499.25 555.65L500.00 556.00L500.75 557.84L501.50 561.67L502.25 558.44L503.00 557.34L503.75 554.87L504.50 559.14L505.25 558.65L506.00 555.96L506.75 556.35L507.50 558.82L508.25 561.32L509.00 560.50L509.75 559.60L510.50 558.45L511.25 560.00L512.00 559.30L512.75 564.40L513.50 556.86L514.25 558.69L515.00 562.52L515.75 559.06L516.50 563.02L517.25 559.71L518.00 560.21L518.75 559.09L519.50 556.84L520.25 557.85L521.00 565.24L521.75 561.70L522.50 561.68L523.25 562.55L524.00 561.73L524.75 562.84L525.50 559.95L526.25 560.11L527.00 562.83L527.75 559.69L528.50 557.38L529.25 559.86L530.00 559.06L530.75 561.66L531.50 558.53L532.25 557.68L533.00 559.30L533.75 563.57L534.50 559.83L535.25 560.25L536.00 559.83L536.75 560.43L537.50 561.82L538.25 562.84L539.00 555.78L539.75 562.63L540.50 559.43L541.25 558.64L542.00 564.83L542.75 558.86L543.50 563.66L544.25 561.35L545.00 556.69L545.75 560.12L546.50 560.63L547.25 558.59L548.00 553.46L548.75 557.96L549.50 558.25L550.25 556.08L551.00 562.76L551.75 557.94L552.50 557.53L553.25 557.69L554.00 556.51L554.75 556.46L555.50 558.40L556.25 558.85L557.00 556.90L557.75 557.79L558.50 554.74L559.25 559.07L560.00 556.09L560.75 558.24L561.50 555.60L562.25 556.44L563.00 558.06L563.75 554.71L564.50 563.24L565.25 557.53L566.00 557.51L566.75 556.04L567.50 561.46L568.25 561.03L569.00 558.59L569.75 554.81L570.50 556.86L571.25 559.49L572.00 556.96L572.75 555.47L573.50 555.52L574.25 556.53L575.00 558.40L575.75 556.93L576.50 558.52L577.25 564.96L578.00 562.67L578.75 556.27L579.50 559.50L580.25 558.97L581.00 558.51L581.75 561.28L582.50 558.18L583.25 558.25L584.00 558.20L584.75 558.88L585.50 562.13L586.25 561.02L587.00 556.20L587.75 558.33L588.50 557.57L589.25 561.34L590.00 560.04L590.75 561.62L591.50 559.49L592.25 555.30L593.00 560.79L593.75 560.33L594.50 561.03L595.25 556.93L596.00 560.17L596.75 558.46L597.50 558.52L598.25 560.97L599.00 561.02L599.75 558.22L600.50 556.39L601.25 554.69L602.00 559.12L602.75 563.08L603.50 560.43L604.25 555.44L605.00 559.14L605.75 562.69L606.50 566.17L607.25 565.61L608.00 564.37L608.75 564.58L609.50 562.29L610.25 564.28L611.00 565.16L611.75 564.74L612.50 567.09L613.25 566.22L614.00 568.08L614.75 570.78L615.50 569.36L616.25 568.79L617.00 567.45L617.75 564.69L618.50 568.10L619.25 569.79L620.00 566.39L620.75 571.77L621.50 568.30L622.25 570.10L623.00 568.66L623.75 566.71L624.50 574.53L625.25 567.28L626.00 572.24L626.75 569.02L627.50 571.12L628.25 568.80L629.00 569.87L629.75 573.12L630.50 575.66L631.25 569.41L632.00 571.56L632.75 573.89L633.50 570.44L634.25 573.70L635.00 570.44L635.75 573.81L636.50 573.60L637.25 575.56L638.00 573.78L638.75 570.38L639.50 574.38L640.25 570.05L641.00 574.04L641.75 575.52L642.50 573.15L643.25 570.23L644.00 573.98L644.75 571.35L645.50 567.83L646.25 569.61L647.00 573.42L647.75 569.19L648.50 569.90L649.25 568.56L650.00 565.20L650.75 567.63L651.50 569.36L652.25 568.74L653.00 567.59L653.75 562.82L654.50 570.29L655.25 569.01L656.00 569.58L656.75 570.09L657.50 565.95L658.25 565.45L659.00 567.44L659.75 570.44L660.50 562.59L661.25 565.81L662.00 564.56L662.75 567.37L663.50 569.32L664.25 565.15L665.00 562.85L665.75 565.69L666.50 564.79L667.25 561.77L668.00 567.23L668.75 563.86L669.50 566.51L670.25 561.79L671.00 567.21L671.75 561.24L672.50 566.86L673.25 560.14L674.00 567.35L674.75 563.19L675.50 560.35L676.25 563.26L677.00 564.45L677.75 561.27L678.50 562.28L679.25 563.91L680.00 562.77L680.75 555.99L681.50 561.92L682.25 563.76L683.00 563.34L683.75 564.85L684.50 560.81L685.25 568.15L686.00 563.99L686.75 562.74L687.50 564.39L688.25 563.96L689.00 561.88L689.75 560.09L690.50 563.74L691.25 562.23L692.00 556.78L692.75 558.47L693.50 561.95L694.25 561.00L695.00 561.27L695.75 561.73L696.50 560.21L697.25 563.14L698.00 557.77L698.75 557.83L699.50 559.12L700.25 559.71L701.00 559.44L701.75 560.67L702.50 555.78L703.25 559.18L704.00 557.20L704.75 553.35L705.50 555.06L706.25 559.80L707.00 556.43L707.75 553.74L708.50 547.99L709.25 550.50L710.00 549.27L710.75 549.75L711.50 553.57L712.25 548.66L713.00 546.57L713.75 543.44L714.50 542.60L715.25 544.59L716.00 543.74L716.75 551.47L717.50 543.37L718.25 542.62L719.00 546.38L719.75 543.70L720.50 541.61L721.25 548.93L722.00 546.76L722.75 545.94L723.50 549.68L724.25 548.44L725.00 544.91L725.75 545.67L726.50 544.33L727.25 538.79L728.00 534.46L728.75 532.06L729.50 535.64L730.25 537.14L731.00 535.27L731.75 535.80L732.50 536.49L733.25 531.88L734.00 533.90L734.75 527.58L735.50 532.30L736.25 531.25L737.00 529.75L737.75 528.58L738.50 526.65L739.25 528.81L740.00 530.68L740.75 526.15L741.50 527.46L742.25 523.96L743.00 525.32L743.75 521.67L744.50 524.11L745.25 521.99L746.00 522.46L746.75 519.59L747.50 517.53L748.25 518.73L749.00 521.21L749.75 522.09L750.50 517.33L751.25 519.54L752.00 519.07L752.75 517.86L753.50 513.01L754.25 516.95L755.00 513.60L755.75 518.16L756.50 516.89L757.25 516.12L758.00 508.50L758.75 515.38L759.50 515.19L760.25 510.27L761.00 515.06L761.75 512.63L762.50 511.66L763.25 510.06L764.00 508.99L764.75 510.11L765.50 518.06L766.25 511.28L767.00 511.14L767.75 509.02L768.50 508.94L769.25 508.94L770.00 508.02L770.75 511.92L771.50 509.14L772.25 511.60L773.00 506.80L773.75 511.45L774.50 509.10L775.25 510.54L776.00 508.62L776.75 506.67L777.50 510.97L778.25 506.36L779.00 506.19L779.75 503.67L780.50 505.35L781.25 503.16L782.00 503.88L782.75 503.20L783.50 500.00L784.25 497.51L785.00 500.93L785.75 501.22L786.50 499.88L787.25 494.82L788.00 498.02L788.75 496.69L789.50 495.64L790.25 495.50L791.00 493.77L791.75 495.01L792.50 496.64L793.25 493.35L794.00 491.20L794.75 494.27L795.50 494.96L796.25 490.27L797.00 492.96L797.75 495.77L798.50 493.45L799.25 493.38L800.00 489.65L800.75 494.00L801.50 495.33L802.25 490.21L803.00 488.36L803.75 486.75L804.50 490.84L805.25 488.41L806.00 485.72L806.75 489.71L807.50 488.05L808.25 487.05L809.00 480.99L809.75 484.18L810.50 485.23L811.25 480.35L812.00 484.68L812.75 485.21L813.50 483.37L814.25 478.21L815.00 477.12L815.75 479.78L816.50 478.78L817.25 478.20L818.00 477.01L818.75 472.89L819.50 471.05L820.25 466.60L821.00 471.91L821.75 475.34L822.50 469.04L823.25 469.01L824.00 471.60L824.75 470.96L825.50 466.95L826.25 468.46L827.00 467.58L827.75 474.75L828.50 468.45L829.25 472.07L830.00 474.51L830.75 474.46L831.50 473.38L832.25 473.85L833.00 467.26L833.75 469.31L834.50 468.43L835.25 469.44L836.00 476.13L836.75 466.24L837.50 471.39L838.25 467.26L839.00 473.18L839.75 473.09L840.50 468.93L841.25 474.86L842.00 469.86L842.75 472.24L843.50 469.51L844.25 467.05L845.00 467.02L845.75 467.17L846.50 468.41L847.25 466.83L848.00 471.52L848.75 465.20L849.50 464.12L850.25 463.09L851.00 462.51L851.75 460.53L852.50 461.13L853.25 465.03L854.00 462.63L854.75 461.71L855.50 462.53L856.25 463.81L857.00 462.39L857.75 462.38L858.50 458.94L859.25 459.25L860.00 457.69L860.75 458.88L861.50 456.85L862.25 457.49L863.00 457.57L863.75 457.10L864.50 456.60L865.25 455.58L866.00 459.23L866.75 454.93L867.50 452.89L868.25 455.16L869.00 451.71L869.75 451.25L870.50 453.41L871.25 448.88L872.00 444.81L872.75 452.38L873.50 453.60L874.25 446.87L875.00 448.15L875.75 451.04L876.50 444.65L877.25 446.71L878.00 445.45L878.75 447.26L879.50 442.68L880.25 448.92L881.00 446.32L881.75 447.13L882.50 445.47L883.25 441.13L884.00 445.44L884.75 442.50L885.50 445.39L886.25 443.19L887.00 444.21L887.75 444.24L888.50 446.29L889.25 446.06L890.00 441.77L890.75 443.83L891.50 447.01L892.25 444.57L893.00 441.55L893.75 442.73L894.50 442.00L895.25 444.75L896.00 442.44L896.75 443.01L897.50 447.02L898.25 438.54L899.00 439.15L899.75 437.26L900.50 437.35L901.25 442.75L902.00 441.21L902.75 444.06L903.50 435.53L904.25 437.81L905.00 442.92L905.75 441.74L906.50 441.17L907.25 440.90L908.00 438.74L908.75 438.41L909.50 438.27L910.25 439.90L911.00 437.35L911.75 438.23L912.50 440.60L913.25 434.44L914.00 435.07L914.75 437.86L915.50 435.72L916.25 435.73L917.00 440.68L917.75 436.57L918.50 434.44L919.25 437.79L920.00 440.92L920.75 432.44L921.50 433.31L922.25 434.98L923.00 433.12L923.75 439.44L924.50 435.52L925.25 433.25L926.00 435.16L926.75 432.07L927.50 432.37L928.25 433.87L929.00 438.98L929.75 428.18L930.50 434.18L931.25 436.19L932.00 434.65" stroke="#9c9c9c" stroke-width="1" fill="none"/>
<rect x="120.5" y="45.5" width="812.0" height="185.0" fill="none" stroke="#000" stroke-width="1"/>
<rect x="120.5" y="230.5" width="812.0" height="184.0" fill="none" stroke="#000" stroke-width="1"/>
<rect x="120.5" y="414.5" width="812.0" height="185.0" fill="none" stroke="#000" stroke-width="1"/>
<text x="111.50" y="51.50" text-anchor="end" textLength="40.33" lengthAdjust="spacing">79.00</text>
<text x="111.50" y="74.60" text-anchor="end" textLength="40.33" lengthAdjust="spacing">78.00</text>
<text x="111.50" y="97.70" text-anchor="end" textLength="40.33" lengthAdjust="spacing">77.00</text>
<text x="111.50" y="120.80" text-anchor="end" textLength="40.33" lengthAdjust="spacing">76.00</text>
<text x="111.50" y="143.90" text-anchor="end" textLength="40.33" lengthAdjust="spacing">75.00</text>
<text x="111.50" y="167.00" text-anchor="end" textLength="40.33" lengthAdjust="spacing">74.00</text>
<text x="111.50" y="190.10" text-anchor="end" textLength="40.33" lengthAdjust="spacing">73.00</text>
<text x="111.50" y="213.20" text-anchor="end" textLength="40.33" lengthAdjust="spacing">72.00</text>
<text x="111.50" y="236.30" text-anchor="end" textLength="40.33" lengthAdjust="spacing">71.00</text>
<text x="111.50" y="236.30" text-anchor="end" textLength="49.29" lengthAdjust="spacing">100.00</text>
<text x="111.50" y="254.76" text-anchor="end" textLength="40.33" lengthAdjust="spacing">90.00</text>
<text x="111.50" y="273.22" text-anchor="end" textLength="40.33" lengthAdjust="spacing">80.00</text>
<text x="111.50" y="291.68" text-anchor="end" textLength="40.33" lengthAdjust="spacing">70.00</text>
<text x="111.50" y="310.14" text-anchor="end" textLength="40.33" lengthAdjust="spacing">60.00</text>
<text x="111.50" y="328.60" text-anchor="end" textLength="40.33" lengthAdjust="spacing">50.00</text>
<text x="111.50" y="347.06" text-anchor="end" textLength="40.33" lengthAdjust="spacing">40.00</text>
<text x="111.50" y="365.52" text-anchor="end" textLength="40.33" lengthAdjust="spacing">30.00</text>
<text x="111.50" y="383.98" text-anchor="end" textLength="40.33" lengthAdjust="spacing">20.00</text>
<text x="111.50" y="402.44" text-anchor="end" textLength="40.33" lengthAdjust="spacing">10.00</text>
<text x="111.50" y="420.90" text-anchor="end" textLength="31.37" lengthAdjust="spacing">0.00</text>
<text x="111.50" y="420.90" text-anchor="end" textLength="40.33" lengthAdjust="spacing">30.04</text>
<text x="111.50" y="444.02" text-anchor="end" textLength="40.33" lengthAdjust="spacing">30.02</text>
<text x="111.50" y="467.15" text-anchor="end" textLength="40.33" lengthAdjust="spacing">30.00</text>
<text x="111.50" y="490.27" text-anchor="end" textLength="40.33" lengthAdjust="spacing">29.98</text>
<text x="111.50" y="513.40" text-anchor="end" textLength="40.33" lengthAdjust="spacing">29.96</text>
<text x="111.50" y="536.52" text-anchor="end" textLength="40.33" lengthAdjust="spacing">29.94</text>
<text x="111.50" y="559.65" text-anchor="end" textLength="40.33" lengthAdjust="spacing">29.92</text>
<text x="111.50" y="582.78" text-anchor="end" textLength="40.33" lengthAdjust="spacing">29.90</text>
<text x="111.50" y="605.90" text-anchor="end" textLength="40.33" lengthAdjust="spacing">29.88</text>
<text x="120.50" y="627.50" text-anchor="middle">00</text>
<text x="154.33" y="627.50" text-anchor="middle">01</text>
<text x="188.17" y="627.50" text-anchor="middle">02</text>
<text x="222.00" y="627.50" text-anchor="middle">03</text>
<text x="255.83" y="627.50" text-anchor="middle">04</text>
<text x="289.67" y="627.50" text-anchor="middle">05</text>
<text x="323.50" y="627.50" text-anchor="middle">06</text>
<text x="357.33" y="627.50" text-anchor="middle">07</text>
<text x="391.17" y="627.50" text-anchor="middle">08</text>
<text x="425.00" y="627.50" text-anchor="middle">09</text>
<text x="458.83" y="627.50" text-anchor="middle">10</text>
<text x="492.67" y="627.50" text-anchor="middle">11</text>
<text x="526.50" y="627.50" text-anchor="middle">12</text>
<text x="560.33" y="627.50" text-anchor="middle">13</text>
<text x="594.17" y="627.50" text-anchor="middle">14</text>
<text x="628.00" y="627.50" text-anchor="middle">15</text>
<text x="661.83" y="627.50" text-anchor="middle">16</text>
<text x="695.67" y="627.50" text-anchor="middle">17</text>
<text x="729.50" y="627.50" text-anchor="middle">18</text>
<text x="763.33" y="627.50" text-anchor="middle">19</text>
<text x="797.17" y="627.50" text-anchor="middle">20</text>
<text x="831.00" y="627.50" text-anchor="middle">21</text>
<text x="864.83" y="627.50" text-anchor="middle">22</text>
<text x="898.67" y="627.50" text-anchor="middle">23</text>
<text x="932.50" y="627.50" text-anchor="middle">00</text>
<text x="526.50" y="18.80" text-anchor="middle">Science Center L Wing environment status (2025-09-14)</text>
<text x="526.50" y="660.60" text-anchor="middle" textLength="64.03" lengthAdjust="spacing">time (hr)</text>
<text x="32.50" y="137.50" text-anchor="middle" textLength="95.44" lengthAdjust="spacing" transform="rotate(-90 32.50 137.50)">temperature</text>
<text x="56.50" y="137.50" text-anchor="middle" transform="rotate(-90 56.50 137.50)">(deg F)</text>
<text x="33.50" y="322.00" text-anchor="middle" textLength="125.61" lengthAdjust="spacing" transform="rotate(-90 33.50 322.00)">relative humidity</text>
<text x="56.50" y="322.00" text-anchor="middle" textLength="35.40" lengthAdjust="spacing" transform="rotate(-90 56.50 322.00)">(pct)</text>
<text x="32.50" y="507.00" text-anchor="middle" textLength="155.33" lengthAdjust="spacing" transform="rotate(-90 32.50 507.00)">barometric pressure</text>
<text x="56.50" y="507.00" text-anchor="middle" transform="rotate(-90 56.50 507.00)">(in Hg)</text>
<text x="261.00" y="684.50" text-anchor="end">enviro-1</text>
<text x="261.00" y="705.50" text-anchor="end">enviro-2</text>
<text x="396.00" y="684.50" text-anchor="end">enviro-3</text>
<text x="396.00" y="705.50" text-anchor="end">enviro-4</text>
<text x="531.00" y="684.50" text-anchor="end">enviro-5</text>
<text x="531.00" y="705.50" text-anchor="end">enviro-6</text>
<text x="666.00" y="684.50" text-anchor="end">enviro-7</text>
<text x="666.00" y="705.50" text-anchor="end">enviro-8</text>
<text x="800.00" y="684.50" text-anchor="end" textLength="50.55" lengthAdjust="spacing">indoor</text>
<path d="M271 678.5h45" stroke="#9400d3" stroke-width="2"/>
<path d="M271 699.5h45" stroke="#009e73" stroke-width="2"/>
<path d="M406 678.5h45" stroke="#56b4e9" stroke-width="2"/>
<path d="M406 699.5h45" stroke="#e69f00" stroke-width="2"/>
<path d="M541 678.5h45" stroke="#f0e442" stroke-width="2"/>
<path d="M541 699.5h45" stroke="#0072b2" stroke-width="2"/>
<path d="M676 678.5h45" stroke="#e51e10" stroke-width="2"/>
<path d="M676 699.5h45" stroke="#000000" stroke-width="2"/>
<path d="M810 678.5h45" stroke="#a0a0a0" stroke-width="1"/>
</svg></body></html>
